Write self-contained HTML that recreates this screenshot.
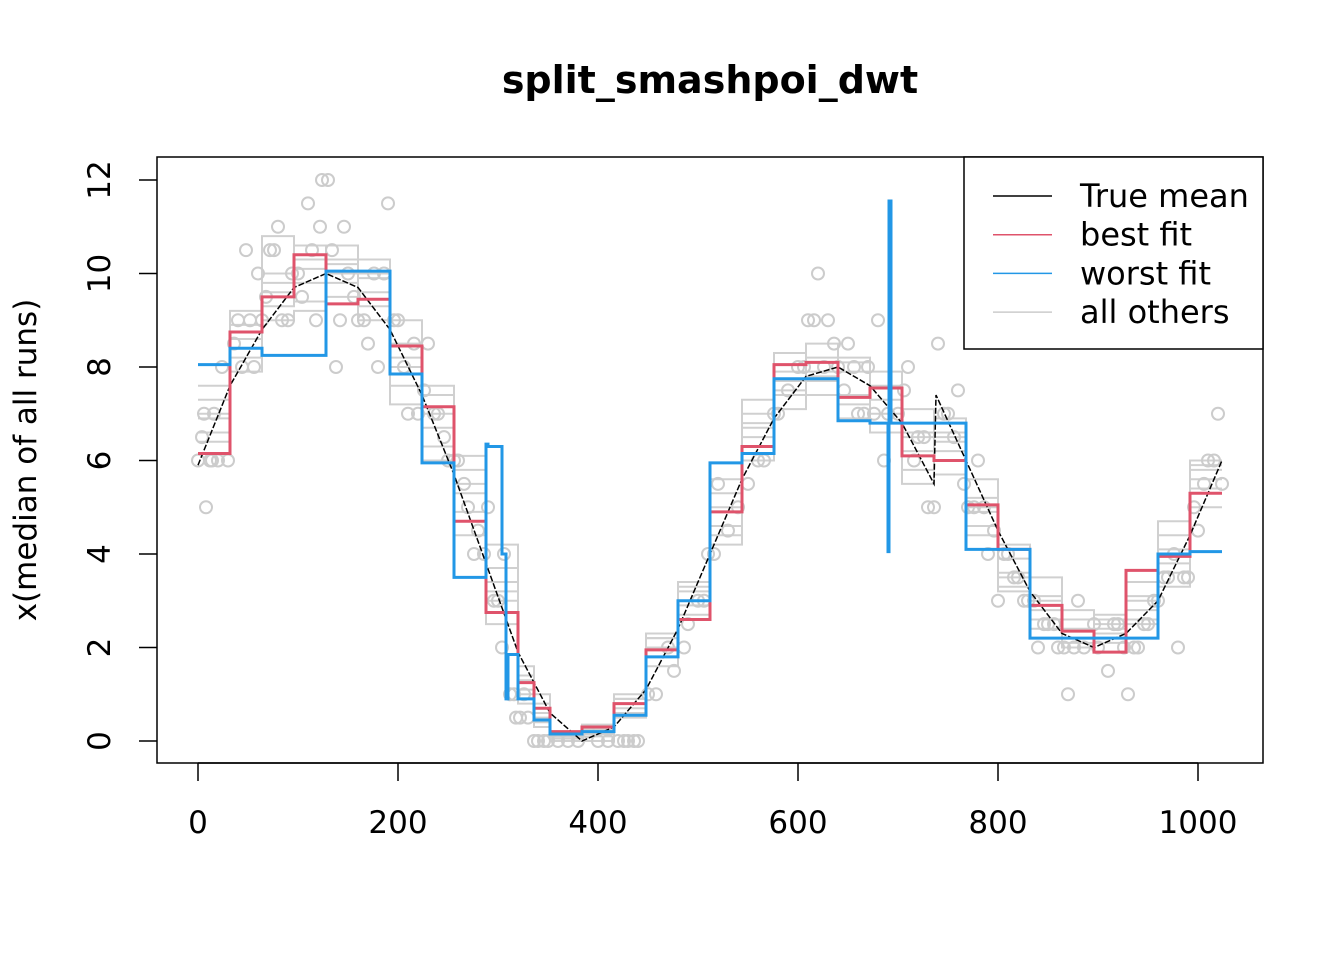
<!DOCTYPE html>
<html><head><meta charset="utf-8"><style>
body{margin:0;background:#fff}
svg{display:block;font-family:"DejaVu Sans","Liberation Sans",sans-serif}
</style></head><body>
<svg id="c" width="1344" height="960"></svg>
<script>
const blockEdges=[0,32,64,96,128,160,192,224,256,288,320,336,352,384,416,448,480,512,544,576,608,640,672,704,736,768,800,832,864,896,928,960,992,1024];
const bestFit=[6.15,8.75,9.5,10.4,9.35,9.45,8.45,7.15,4.7,2.75,1.25,0.7,0.2,0.3,0.8,1.95,2.6,4.9,6.3,8.05,8.1,7.35,7.55,6.1,6.0,5.05,4.1,2.9,2.35,1.9,3.65,3.95,5.3];
const worstX=[0,32,64,128,192,224,256,288,290,304,308,310,312,320,336,352,384,416,448,480,512,544,576,640,672,690,691,693,694,704,768,832,960,992,1024];
const worstY=[8.05,8.4,8.25,10.05,7.85,5.95,3.5,6.35,6.3,4.0,0.9,1.85,1.85,0.9,0.45,0.15,0.2,0.55,1.8,3.0,5.95,6.15,7.75,6.85,6.8,4.05,11.55,6.8,6.8,6.8,4.1,2.2,4.0,4.05,4.05];
const trueX=[0,32,64,96,128,160,192,224,256,288,320,352,384,416,448,480,512,544,576,608,640,672,704,736,738,768,800,832,864,896,928,960,992,1024];
const trueY=[5.9,7.6,8.8,9.7,10.0,9.7,8.8,7.4,5.7,3.8,1.9,0.6,0.0,0.3,1.1,2.4,4.0,5.6,6.9,7.8,8.0,7.6,6.8,5.5,7.4,6.0,4.5,3.2,2.3,2.0,2.3,3.0,4.4,6.0];
const otherA=[7.0,8.9,10.0,9.8,10.2,9.0,7.2,6.3,4.4,3.0,1.0,0.5,0.1,0.25,0.9,2.2,3.4,5.3,7.0,7.5,7.7,7.2,7.0,6.6,6.4,4.6,3.6,2.6,2.2,2.4,2.8,4.4,5.9];
const otherB=[6.6,8.2,9.8,10.6,10.0,10.0,8.0,7.6,5.3,3.4,1.6,0.3,0.05,0.15,0.6,1.6,3.0,4.4,6.7,7.7,8.2,7.9,6.8,5.5,5.7,4.9,3.2,2.8,2.0,2.6,3.1,3.3,6.0];
const otherC=[7.6,8.4,9.0,9.2,10.3,9.6,9.0,6.7,6.1,4.2,1.1,1.0,0.2,0.1,1.0,2.2,2.9,5.6,6.5,7.1,7.9,8.1,7.9,6.5,6.6,5.6,3.9,3.5,2.6,2.1,2.5,3.6,5.0];
const otherD=[6.9,9.2,10.8,10.3,9.5,9.3,7.6,7.0,4.9,2.5,1.4,0.8,0.15,0.2,0.7,1.8,3.2,5.0,7.3,8.3,7.4,6.9,7.3,6.2,6.9,5.2,4.2,3.0,2.4,2.3,3.4,4.7,5.6];
const otherE=[7.3,7.9,9.3,10.1,10.6,9.9,8.5,6.0,5.5,3.7,0.8,0.4,0.0,0.35,0.5,2.0,2.7,4.6,6.0,7.9,7.8,8.2,6.6,7.1,6.2,4.4,3.5,2.4,2.8,2.5,2.6,3.8,5.4];
const otherF=[6.4,8.6,9.6,9.4,9.8,10.3,8.2,7.4,5.8,3.2,1.3,0.6,0.1,0.0,0.9,2.3,3.3,4.2,6.8,7.4,8.5,7.4,7.6,5.8,6.5,5.0,3.3,3.1,2.1,2.7,3.0,4.1,5.8];
const ptX=[0,4,8,12,16,24,30,40,48,56,64,72,80,90,100,110,118,124,130,138,146,150,160,170,180,190,200,210,220,230,240,250,260,270,280,290,300,306,312,318,326,336,346,360,380,400,420,430,436,450,470,490,500,510,520,540,560,580,600,610,620,630,640,650,660,670,680,690,700,710,720,730,740,750,760,770,780,790,800,810,820,830,840,850,860,870,880,900,910,920,930,940,950,960,970,980,990,1000,1010,1020,1024];
const ptY=[6,6.5,5,6,7,8,6,9,10.5,8,9,10.5,11,9,10,11.5,9,12,12,8,11,10,9,8.5,8,11.5,9,7,7,8.5,7,6,6,5,4.5,5,3,4,1,0.5,1,0,0,0,0,0,0,0,0,1,2,2.5,3,4,5.5,5,6,7,8,9,10,9,8,8.5,7,8,9,7,7,8,6.5,5,8.5,7,7.5,5,6,4,3,4,3.5,3,2,2.5,2,1,3,2,1.5,2.5,1,2,2.5,3,3.5,2,3.5,4.5,6,7,5.5];
const pt2X=[6,14,20,36,44,52,60,68,76,84,94,104,114,122,134,142,156,166,176,186,196,206,216,226,236,246,256,266,276,286,296,304,316,322,330,340,350,370,390,410,426,440,458,476,486,506,516,530,550,566,576,590,606,616,626,636,646,656,666,676,686,706,716,726,736,746,756,766,776,786,796,806,816,826,836,846,856,866,876,886,896,916,926,936,946,956,966,976,986,996,1006,1016];
const pt2Y=[7,6,6,8.5,8,9,10,9.5,10.5,9,10,9.5,10.5,11,10.5,9,9.5,9,10,10,9,8,8.5,7.5,7,6.5,6,5.5,4,4,3,2,1,0.5,0.5,0,0,0,0.2,0,0,0,1,1.5,2,3,4,4.5,5.5,6,7,7.5,8,9,8,8.5,7.5,8,7,7,6,7.5,6,6.5,5,7,6.5,5.5,5,5,4.5,4,3.5,3,3,2.5,2.5,2,2,2,2.5,2.5,2,2,2.5,3,3.5,4,3.5,5,5.5,6];
const xTicks=[0,200,400,600,800,1000];
const yTicks=[0,2,4,6,8,10,12];

const svg=document.getElementById('c');const NS='http://www.w3.org/2000/svg';
const X=v=>198+v*1.0, Y=v=>741-v*46.75;
function mk(t,a,p){const e=document.createElementNS(NS,t);for(const k in a)e.setAttribute(k,a[k]);(p||svg).appendChild(e);return e;}
function stepPath(edges,vals){let d='';for(let i=0;i<vals.length;i++){const x0=X(edges[i]),x1=X(edges[i+1]),y=Y(vals[i]);d+=(i?'L':'M')+x0+','+y+'L'+x1+','+y;}return d;}
function stepXY(xs,ys){let d='';for(let i=0;i<xs.length;i++){const x=X(xs[i]),y=Y(ys[i]);if(i)d+='L'+x+','+Y(ys[i-1]);d+=(i?'L':'M')+x+','+y;}return d;}

const t=mk('text',{x:710,y:93,'text-anchor':'middle','font-size':38,'font-weight':'bold'});t.textContent='split_smashpoi_dwt';



[otherA,otherB,otherC,otherD,otherE,otherF].forEach((s,i)=>{const p=mk('path',{d:stepPath(blockEdges,s),fill:'none',stroke:'#d0d0d0','stroke-width':2});

});
ptX.forEach((x,i)=>{const c=mk('circle',{cx:X(x),cy:Y(ptY[i]),r:6,fill:'none',stroke:'#cccccc','stroke-width':2});

});
pt2X.forEach((x,i)=>{const c=mk('circle',{cx:X(x),cy:Y(pt2Y[i]),r:6,fill:'none',stroke:'#cccccc','stroke-width':2});

});

const tm=mk('path',{d:trueX.map((x,i)=>(i?'L':'M')+X(x)+','+Y(trueY[i])).join(''),fill:'none',stroke:'#000','stroke-width':1.5,'stroke-dasharray':'6,2'});


const bf=mk('path',{d:stepPath(blockEdges,bestFit),fill:'none',stroke:'#DF536B','stroke-width':3});


const wf=mk('path',{d:stepXY(worstX,worstY),fill:'none',stroke:'#2297E6','stroke-width':3});



const box=mk('rect',{x:157,y:157,width:1106,height:606,fill:'none',stroke:'#000','stroke-width':1.5});



xTicks.forEach(v=>{mk('line',{x1:X(v),x2:X(v),y1:763,y2:781,stroke:'#000','stroke-width':1.5});
const l=mk('text',{x:X(v),y:833,'text-anchor':'middle','font-size':31});l.textContent=v;

});
mk('line',{x1:X(0),x2:X(1000),y1:763,y2:763,stroke:'#000','stroke-width':1.5});
yTicks.forEach(v=>{mk('line',{x1:157,x2:139,y1:Y(v),y2:Y(v),stroke:'#000','stroke-width':1.5});
const l=mk('text',{x:110,y:Y(v),'text-anchor':'middle','font-size':31,transform:`rotate(-90 110 ${Y(v)})`});l.textContent=v;

});
const yl=mk('text',{x:36,y:460,'text-anchor':'middle','font-size':31,transform:'rotate(-90 36 460)'});yl.textContent='x(median of all runs)';



const lg=mk('g',{});


mk('rect',{x:964,y:157,width:299,height:192,fill:'#fff',stroke:'#000','stroke-width':1.5},lg);
[['True mean','#000'],['best fit','#DF536B'],['worst fit','#2297E6'],['all others','#cccccc']].forEach((e,i)=>{
const y=196+i*38.7;
mk('line',{x1:993,x2:1052,y1:y,y2:y,stroke:e[1],'stroke-width':1.5},lg);
const tx=mk('text',{x:1080,y:y+11,'font-size':32},lg);tx.textContent=e[0];

});
</script>
</body></html>
